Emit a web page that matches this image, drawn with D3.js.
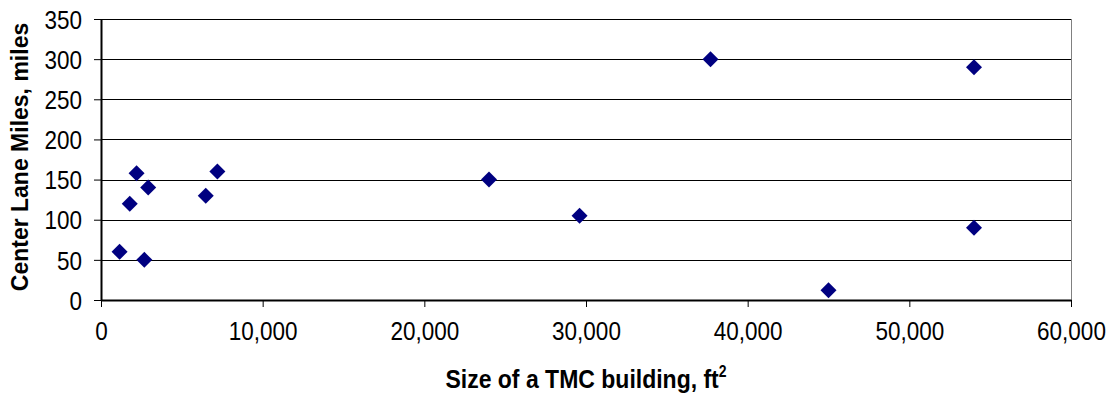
<!DOCTYPE html>
<html>
<head>
<meta charset="utf-8">
<script src="https://cdn.jsdelivr.net/npm/d3@7"></script>
<style>
  html, body { margin: 0; padding: 0; background: #fff; }
  svg { display: block; font-family: "Liberation Sans", Arial, sans-serif; }
  .tall { transform-box: fill-box; transform-origin: center; transform: scaleY(1.14); }
</style>
</head>
<body>
<svg id="chart" width="1114" height="394"></svg>
<script>
// Building size (ft²) and center lane miles for each TMC
const buildingSize = [1150, 1780, 2200, 2680, 2920, 6480, 7200, 24000, 29600, 37700, 45000, 54000, 54000];
const laneMiles    = [60, 120, 158, 50, 140, 130, 160, 150, 105, 300, 12, 290, 90];

const xTicks = [0, 10000, 20000, 30000, 40000, 50000, 60000];
const yTicks = [0, 50, 100, 150, 200, 250, 300, 350];

const xTitle = "Size of a TMC building, ft";
const yTitle = "Center Lane Miles, miles";

const points = buildingSize.map((s, i) => ({ size: s, miles: laneMiles[i] }));

const svg = d3.select("#chart");
const plot = { left: 101, right: 1071, top: 19, bottom: 300 };

const x = d3.scaleLinear().domain([0, 60000]).range([plot.left, plot.right]);
const y = d3.scaleLinear().domain([0, 350]).range([plot.bottom, plot.top]);

// horizontal gridlines
svg.append("g")
  .selectAll("line")
  .data(yTicks.filter(t => t > 0))
  .join("line")
  .attr("x1", plot.left).attr("x2", plot.right)
  .attr("y1", d => Math.round(y(d)) + 0.5).attr("y2", d => Math.round(y(d)) + 0.5)
  .attr("stroke", "#000").attr("stroke-width", 1);

// right plot border
svg.append("line")
  .attr("x1", plot.right + 0.5).attr("x2", plot.right + 0.5)
  .attr("y1", plot.top).attr("y2", plot.bottom)
  .attr("stroke", "#808080").attr("stroke-width", 1);

const fmt = d3.format(",");

// x axis
const xAxis = svg.append("g")
  .attr("transform", `translate(0,${plot.bottom})`)
  .call(d3.axisBottom(x).tickValues(xTicks).tickFormat(fmt).tickSize(7).tickSizeOuter(0));
xAxis.select(".domain").attr("stroke", "#000").attr("stroke-width", 2);
xAxis.selectAll(".tick line").attr("stroke", "#000").attr("stroke-width", 1);
xAxis.selectAll(".tick text")
  .attr("class", "tall")
  .attr("font-size", 22.5).attr("fill", "#000")
  .attr("font-family", "Liberation Sans, Arial, sans-serif")
  .attr("y", 23).attr("dy", "0.71em");

// y axis
const yAxis = svg.append("g")
  .attr("transform", `translate(${plot.left},0)`)
  .call(d3.axisLeft(y).tickValues(yTicks).tickSize(7).tickSizeOuter(0));
yAxis.select(".domain").attr("stroke", "#000").attr("stroke-width", 2);
yAxis.selectAll(".tick line").attr("stroke", "#000").attr("stroke-width", 1);
yAxis.selectAll(".tick text")
  .attr("class", "tall")
  .attr("font-size", 22.5).attr("fill", "#000")
  .attr("font-family", "Liberation Sans, Arial, sans-serif")
  .attr("x", -19).attr("dy", "0.36em");

// diamond markers
const r = 8;
svg.append("g")
  .selectAll("path")
  .data(points)
  .join("path")
  .attr("d", d => {
    const cx = x(d.size), cy = y(d.miles);
    return `M${cx},${cy - r}L${cx + r},${cy}L${cx},${cy + r}L${cx - r},${cy}Z`;
  })
  .attr("fill", "#000080");

// axis titles
const xt = svg.append("text")
  .attr("class", "tall")
  .attr("x", (plot.left + plot.right) / 2).attr("y", 387)
  .attr("text-anchor", "middle")
  .attr("font-size", 23).attr("font-weight", "bold").attr("fill", "#000");
xt.append("tspan").text(xTitle);
xt.append("tspan").text("2").attr("font-size", 14).attr("dy", -10);

svg.append("text")
  .attr("transform", `translate(28,157) rotate(-90)`)
  .attr("text-anchor", "middle")
  .attr("font-size", 23).attr("font-weight", "bold").attr("fill", "#000")
  .text(yTitle);
</script>
</body>
</html>
